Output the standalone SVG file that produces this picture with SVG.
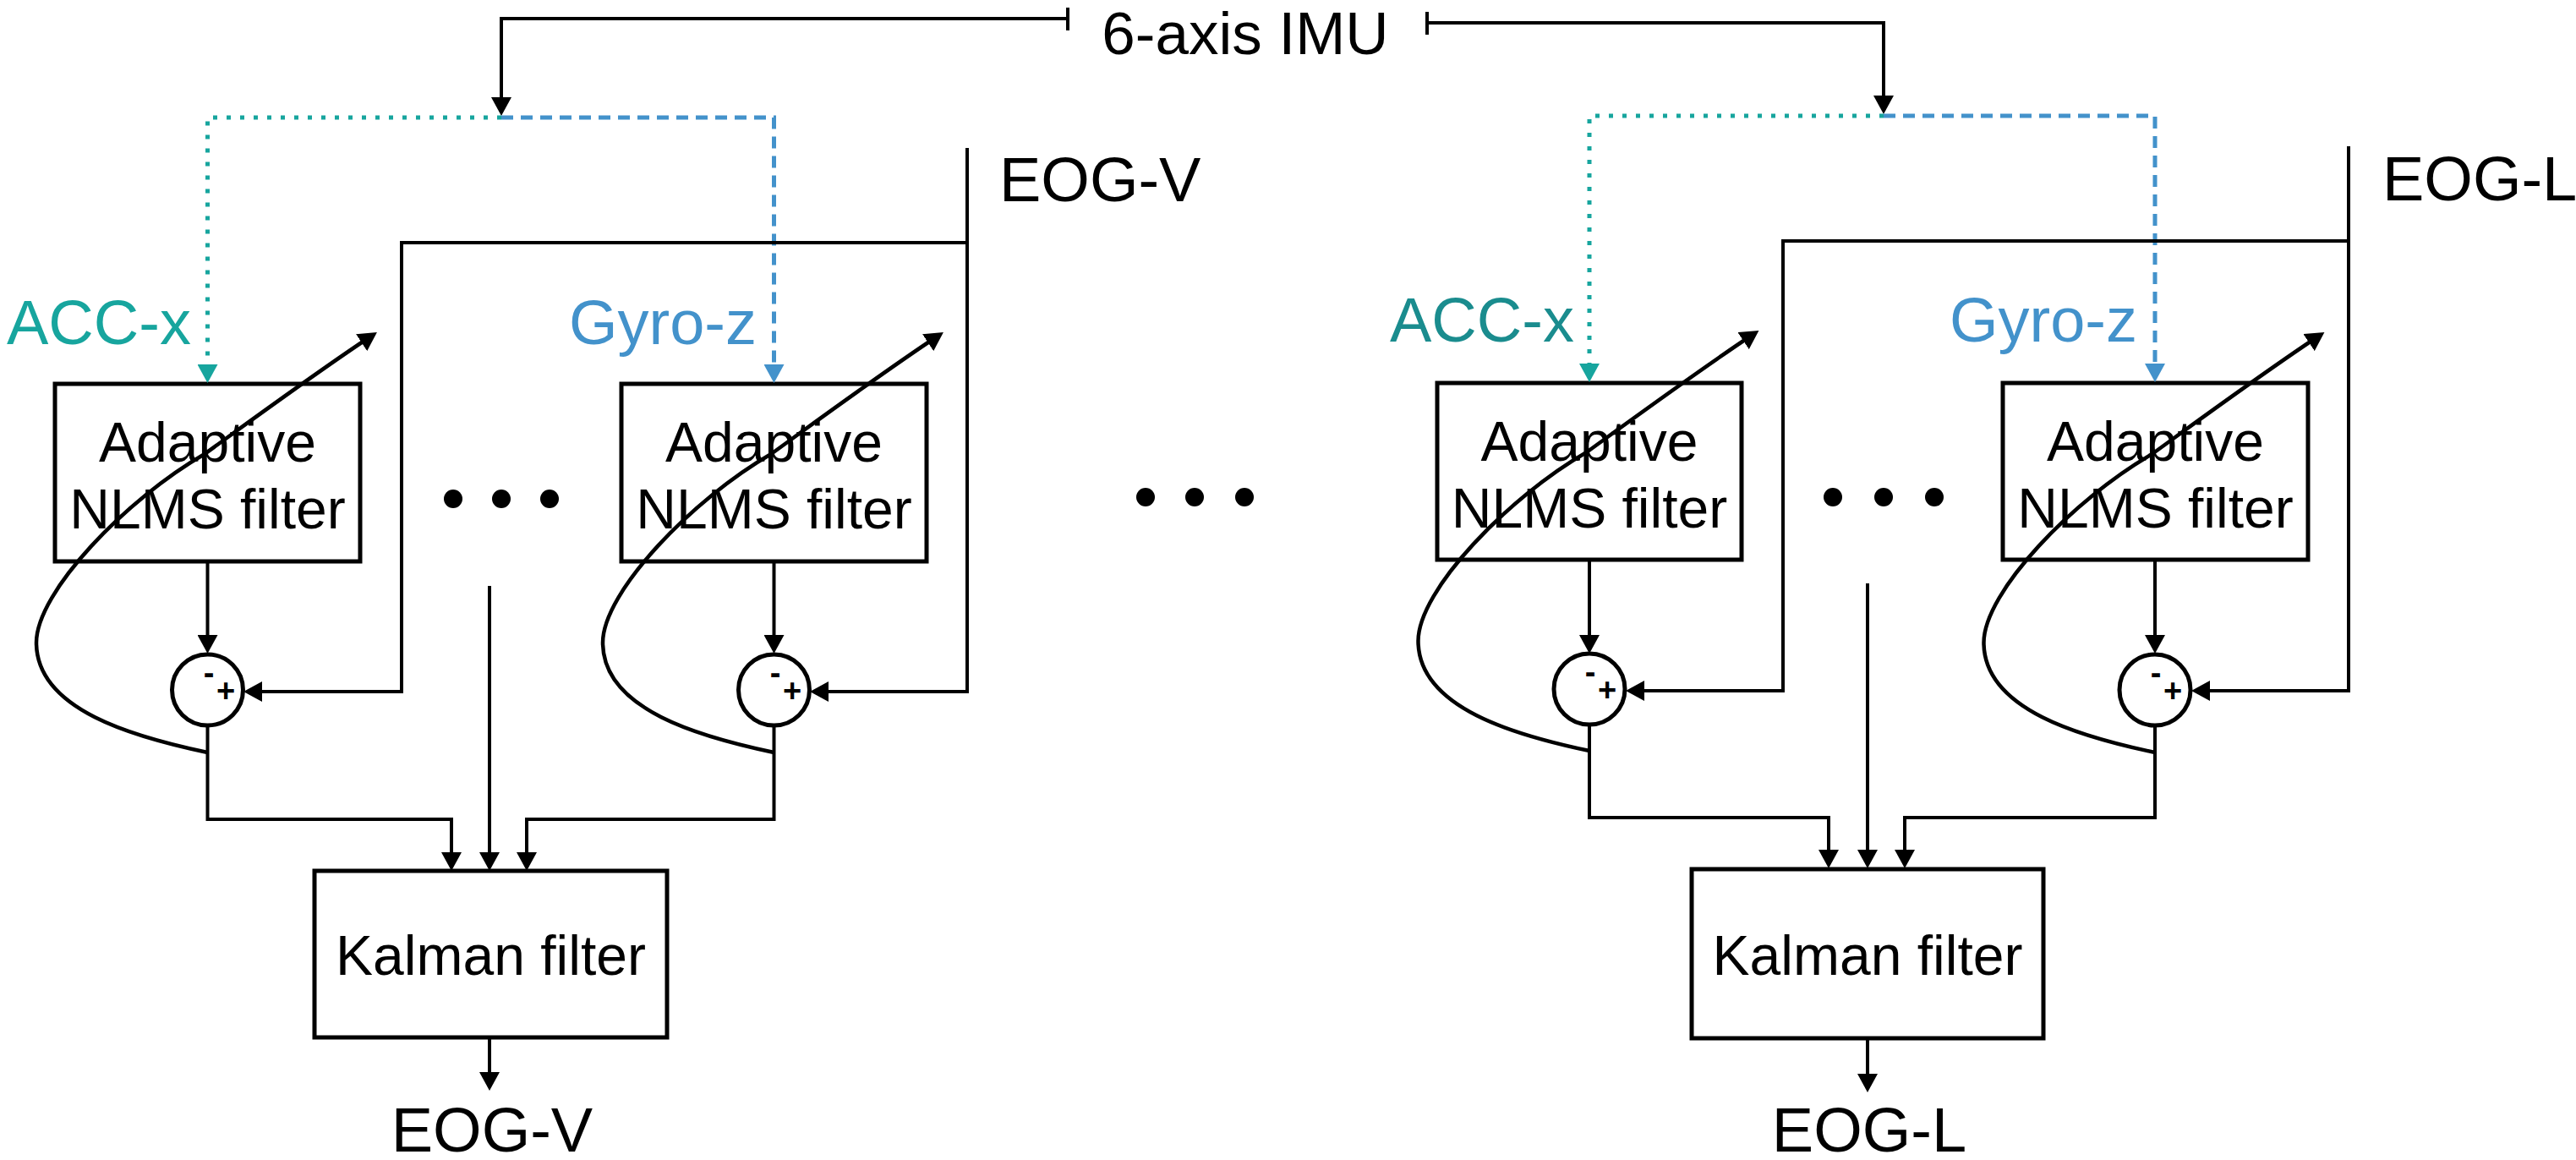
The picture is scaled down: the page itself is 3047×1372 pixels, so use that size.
<svg xmlns="http://www.w3.org/2000/svg" width="3047" height="1372" viewBox="0 0 3047 1372">
<style>
text{font-family:"Liberation Sans",Arial,Helvetica,sans-serif;fill:#000}
.big{font-size:74px}
.box{fill:none;stroke:#000;stroke-width:5}
.lbl{font-size:66px;text-anchor:middle}
.ln{fill:none;stroke:#000;stroke-width:4}
.arr{fill:none;stroke:#000;stroke-width:4;marker-end:url(#ah)}
.curve{fill:none;stroke:#000;stroke-width:4.5;marker-end:url(#ah)}
.dotT{fill:none;stroke:#17a59e;stroke-width:5;stroke-dasharray:5 11}
.dashB{fill:none;stroke:#4392cb;stroke-width:5;stroke-dasharray:14 9}
.sum{fill:#fff;stroke:#000;stroke-width:5}
.sign{font-size:38px;font-weight:bold;text-anchor:middle}
.dot{fill:#000}
</style>
<defs>
<marker id="ah" markerUnits="userSpaceOnUse" markerWidth="22" markerHeight="24" viewBox="0 0 22 24" refX="12" refY="12" orient="auto"><path d="M0,0 L22,12 L0,24 z" fill="#000"/></marker>
<marker id="ahT" markerUnits="userSpaceOnUse" markerWidth="22" markerHeight="24" viewBox="0 0 22 24" refX="12" refY="12" orient="auto"><path d="M0,0 L22,12 L0,24 z" fill="#17a59e"/></marker>
<marker id="ahB" markerUnits="userSpaceOnUse" markerWidth="22" markerHeight="24" viewBox="0 0 22 24" refX="12" refY="12" orient="auto"><path d="M0,0 L22,12 L0,24 z" fill="#4392cb"/></marker>
<g id="fb">
<path class="curve" d="M245.5,890 C160,872 43,840 43,760 C43,700 150,590 242,537 C300,495 375,440 437.6,398.5"/>
</g>
</defs>

<g id="imu">
<text x="1473" y="64" text-anchor="middle" style="font-size:71px">6-axis IMU</text>
</g>

<g id="nlms-1">
<rect class="box" x="65" y="454" width="361" height="210"/>
<text class="lbl" x="245.5" y="546">Adaptive</text>
<text class="lbl" x="245.5" y="625">NLMS filter</text>
</g>
<g id="nlms-2">
<rect class="box" x="735" y="454" width="361" height="210"/>
<text class="lbl" x="915.5" y="546">Adaptive</text>
<text class="lbl" x="915.5" y="625">NLMS filter</text>
</g>
<g id="nlms-3">
<rect class="box" x="1700" y="453" width="360" height="209"/>
<text class="lbl" x="1880" y="545">Adaptive</text>
<text class="lbl" x="1880" y="624">NLMS filter</text>
</g>
<g id="nlms-4">
<rect class="box" x="2369" y="453" width="361" height="209"/>
<text class="lbl" x="2549.5" y="545">Adaptive</text>
<text class="lbl" x="2549.5" y="624">NLMS filter</text>
</g>

<g id="connectors">
<!-- IMU to left -->
<line class="ln" x1="1263" y1="9" x2="1263" y2="36"/>
<path class="arr" d="M1263,22 H593 V127"/>
<path class="dotT" d="M593,139 H245.5 V443" marker-end="url(#ahT)"/>
<path class="dashB" d="M593,139 H915.5 V443" marker-end="url(#ahB)"/>
<!-- IMU to right -->
<line class="ln" x1="1688" y1="14" x2="1688" y2="41"/>
<path class="arr" d="M1688,27 H2228 V125"/>
<path class="dotT" d="M2228,137 H1880 V442" marker-end="url(#ahT)"/>
<path class="dashB" d="M2228,137 H2549 V442" marker-end="url(#ahB)"/>

<!-- EOG-V feeds -->
<path class="arr" d="M1144,175 V818 H968"/>
<path class="arr" d="M1144,287 H475 V818 H298"/>
<!-- EOG-L feeds -->
<path class="arr" d="M2778,173 V817 H2602"/>
<path class="arr" d="M2778,285 H2109 V817 H1933"/>

<!-- box to summer -->
<path class="arr" d="M245.5,664 V763"/>
<path class="arr" d="M915.5,664 V763"/>
<path class="arr" d="M1880,662 V763"/>
<path class="arr" d="M2549,662 V763"/>

<!-- feedback curves -->
<use href="#fb"/>
<use href="#fb" transform="translate(670,0)"/>
<use href="#fb" transform="translate(1634.5,-2)"/>
<use href="#fb" transform="translate(2303.5,0)"/>

<!-- to Kalman left -->
<path class="arr" d="M245.5,858 V969 H534 V1020"/>
<path class="arr" d="M579,693 V1020"/>
<path class="arr" d="M915.5,858 V969 H623 V1020"/>
<path class="arr" d="M579,1227 V1280"/>
<!-- to Kalman right -->
<path class="arr" d="M1880,858 V967 H2163 V1017"/>
<path class="arr" d="M2209,690 V1017"/>
<path class="arr" d="M2549,858 V967 H2253 V1017"/>
<path class="arr" d="M2209,1228 V1282"/>
</g>

<g id="lbl-accx-1"><text class="big" x="8" y="407" style="fill:#17a59e">ACC-x</text></g>
<g id="lbl-gyroz-1"><text class="big" x="673" y="407" style="fill:#4392cb">Gyro-z</text></g>
<g id="lbl-eogv-in"><text class="big" x="1182" y="238">EOG-V</text></g>
<g id="lbl-accx-2"><text class="big" x="1644" y="404" style="fill:#1a8c8e">ACC-x</text></g>
<g id="lbl-gyroz-2"><text class="big" x="2306" y="404" style="fill:#4392cb">Gyro-z</text></g>
<g id="lbl-eogl-in"><text class="big" x="2818" y="237">EOG-L</text></g>

<g id="sum-1">
<circle class="sum" cx="245.5" cy="816" r="42"/>
<text class="sign" x="247" y="809">-</text>
<text class="sign" x="267" y="830">+</text>
</g>
<g id="sum-2">
<circle class="sum" cx="915.5" cy="816" r="42"/>
<text class="sign" x="917" y="809">-</text>
<text class="sign" x="937" y="830">+</text>
</g>
<g id="sum-3">
<circle class="sum" cx="1880" cy="815" r="42"/>
<text class="sign" x="1881" y="808">-</text>
<text class="sign" x="1901" y="829">+</text>
</g>
<g id="sum-4">
<circle class="sum" cx="2549" cy="816" r="42"/>
<text class="sign" x="2550" y="809">-</text>
<text class="sign" x="2570" y="830">+</text>
</g>

<g id="dots-1"><circle class="dot" cx="536" cy="590" r="11"/><circle class="dot" cx="593" cy="590" r="11"/><circle class="dot" cx="650" cy="590" r="11"/></g>
<g id="dots-mid"><circle class="dot" cx="1355" cy="588" r="11"/><circle class="dot" cx="1413" cy="588" r="11"/><circle class="dot" cx="1472" cy="588" r="11"/></g>
<g id="dots-2"><circle class="dot" cx="2168" cy="588" r="11"/><circle class="dot" cx="2228" cy="588" r="11"/><circle class="dot" cx="2288" cy="588" r="11"/></g>

<g id="kalman-1">
<rect class="box" x="372" y="1030" width="417" height="197"/>
<text class="lbl" x="580.5" y="1153">Kalman filter</text>
</g>
<g id="kalman-2">
<rect class="box" x="2001" y="1028" width="416" height="200"/>
<text class="lbl" x="2209" y="1153">Kalman filter</text>
</g>

<g id="out-eogv"><text class="big" x="582" y="1362" text-anchor="middle">EOG-V</text></g>
<g id="out-eogl"><text class="big" x="2211" y="1362" text-anchor="middle">EOG-L</text></g>
</svg>
